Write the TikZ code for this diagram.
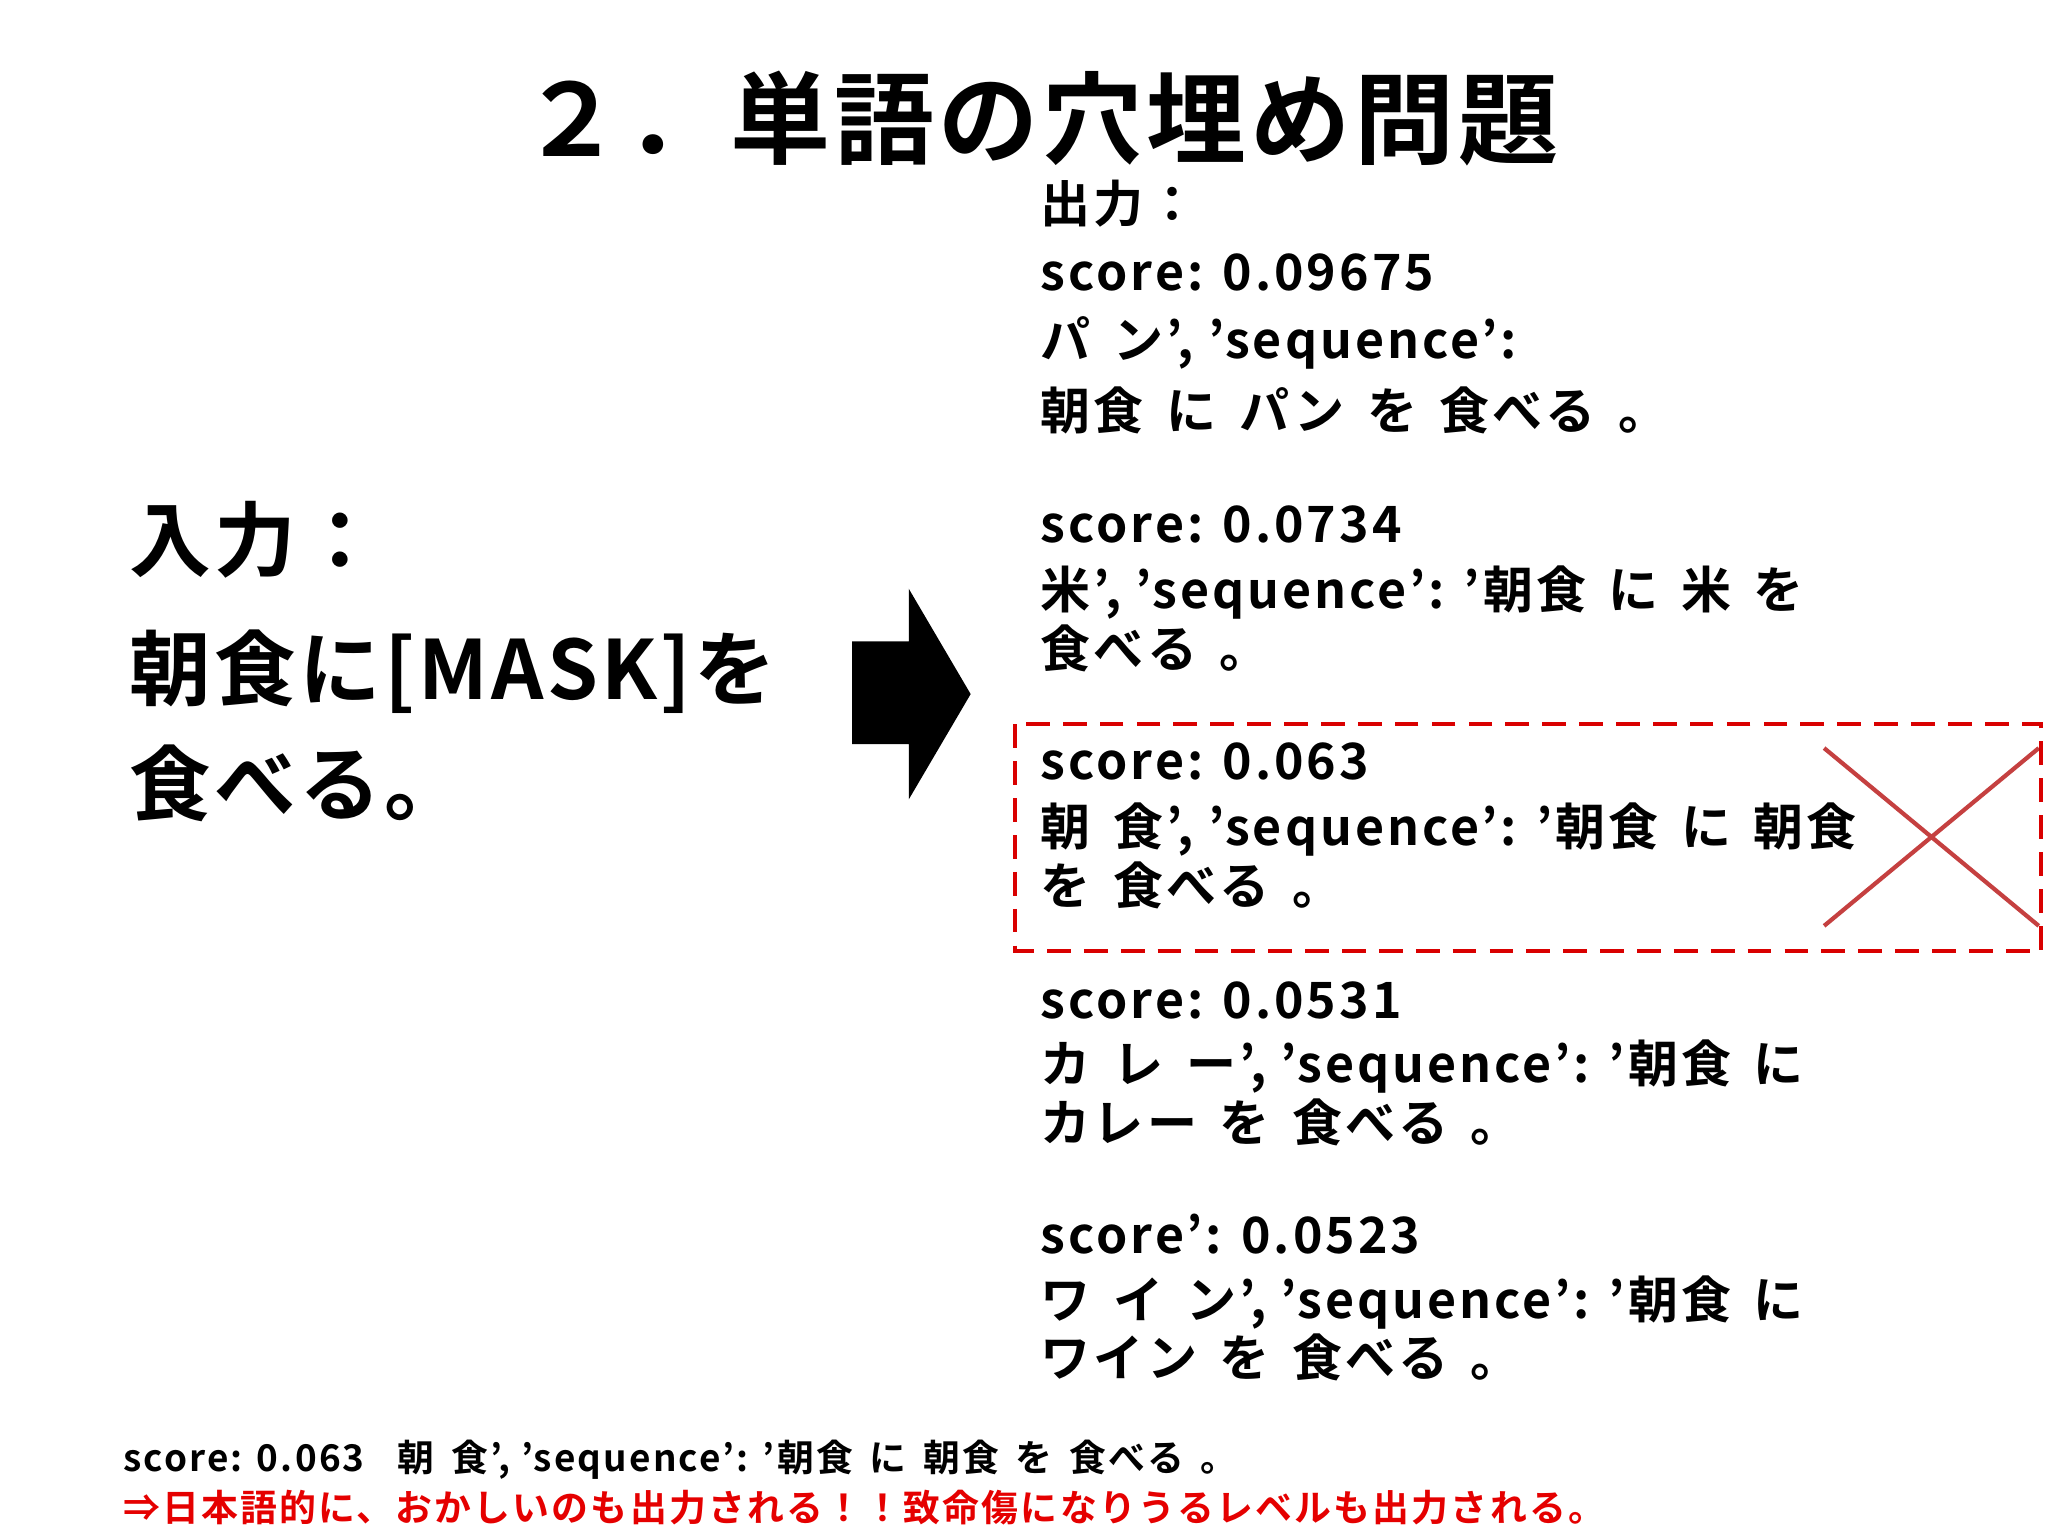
\documentclass[tikz,border=0pt]{standalone}
\usepackage{fontspec}
\setmainfont{Noto Sans CJK JP}[BoldFont={Noto Sans CJK JP Bold}]
\newfontfamily\bodyfont{Noto Sans CJK JP Bold}[LetterSpace=6]
\newfontfamily\bigfont{Noto Sans CJK JP Bold}[LetterSpace=4]
\newcommand\gp{\hspace{0.45em}}
\begin{document}
\begin{tikzpicture}[x=0.5pt,y=-0.5pt,
  body/.style={anchor=west,inner sep=0pt,font=\bodyfont\fontsize{19}{21}\selectfont},
  big/.style={anchor=west,inner sep=0pt,font=\bigfont\fontsize{31}{34}\selectfont},
  foot/.style={anchor=west,inner sep=0pt,font=\bodyfont\fontsize{14}{16}\selectfont}]
\useasboundingbox (0,0) rectangle (1555,1166);
\fill[white] (0,0) rectangle (1555,1166);
\node[inner sep=0pt,font=\bigfont\fontsize{38}{42}\selectfont] (title) at (790,90) {２．単語の穴埋め問題};
\node[big] (in1) at (98,410) {入力：};
\node[big] (in2) at (98,510) {朝食に[MASK]を};
\node[big] (in3) at (98,595) {食べる。};
\fill[black] (647,487) -- (690,487) -- (690,447) -- (737,527) -- (690,607) -- (690,565) -- (647,565) -- cycle;
\node[body] (o0) at (790,155) {出力：};
\node[body] (a1) at (790,207) {score: 0.09675};
\node[body] (a2) at (790,260) {パ\gp ン’, ’sequence’:};
\node[body] (a3) at (790,312) {朝食\gp に\gp パン\gp を\gp 食べる\gp 。};
\node[body] (b1) at (790,398) {score: 0.0734};
\node[body] (b2) at (790,450) {米’, ’sequence’: ’朝食\gp に\gp 米\gp を};
\node[body] (b3) at (790,492) {食べる\gp 。};
\node[body] (c1) at (790,578) {score: 0.063};
\node[body] (c2) at (790,630) {朝\gp 食’, ’sequence’: ’朝食\gp に\gp 朝食};
\node[body] (c3) at (790,672) {を\gp 食べる\gp 。};
\node[body] (d1) at (790,760) {score: 0.0531};
\node[body] (d2) at (790,810) {カ\gp レ\gp ー’, ’sequence’: ’朝食\gp に};
\node[body] (d3) at (790,852) {カレー\gp を\gp 食べる\gp 。};
\node[body] (e1) at (790,937) {score’: 0.0523};
\node[body] (e2) at (790,989) {ワ\gp イ\gp ン’, ’sequence’: ’朝食\gp に};
\node[body] (e3) at (790,1031) {ワイン\gp を\gp 食べる\gp 。};
\draw[red!85!black,line width=1.5pt,dash pattern=on 9pt off 5pt] (771,550) rectangle (1550,722);
\draw[red!70!black,opacity=0.75,line width=1.6pt] (1385,568) -- (1548,703) (1385,703) -- (1548,568);
\node[foot] (f1) at (93,1108) {score: 0.063\gp\gp 朝\gp 食’, ’sequence’: ’朝食\gp に\gp 朝食\gp を\gp 食べる\gp 。};
\node[foot,text=red!90!black] (f2) at (93,1145) {⇒日本語的に、おかしいのも出力される！！致命傷になりうるレベルも出力される。};
\end{tikzpicture}
\end{document}
